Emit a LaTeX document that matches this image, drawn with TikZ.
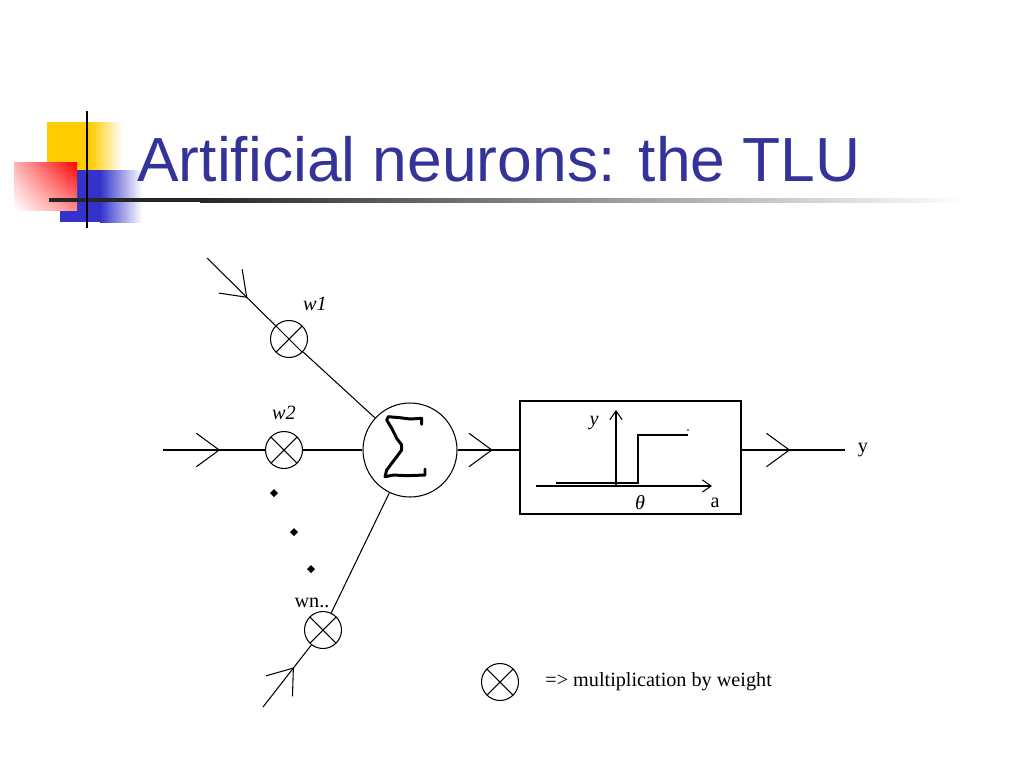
\documentclass[tikz,border=0pt]{standalone}
\usepackage{fontspec}
\setmainfont{Liberation Serif}
\newfontfamily\titlefont{Liberation Sans}
\usetikzlibrary{arrows.meta,decorations.markings,shadings}
\definecolor{titleblue}{RGB}{51,51,153}
\definecolor{logoyellow}{RGB}{255,204,0}
\definecolor{logored}{RGB}{255,0,0}
\definecolor{logoblue}{RGB}{51,51,204}

\begin{document}
\begin{tikzpicture}[x=0.02cm,y=-0.02cm,
    wire/.style={line width=0.6pt},
    weight/.style={draw,circle,minimum size=0.74cm,inner sep=0pt,line width=0.6pt,
        path picture={\draw[line width=0.6pt]
            (path picture bounding box.north west) -- (path picture bounding box.south east)
            (path picture bounding box.north east) -- (path picture bounding box.south west);}},
    barb/.style={postaction={decorate},decoration={markings,
        mark=at position #1 with {\arrow{Straight Barb[length=13pt,width=19pt,line width=0.6pt]}}}},
    lbl/.style={font=\fontsize{11.5}{12}\selectfont,inner sep=0pt},
]
    \useasboundingbox (0,0) rectangle (1024,768);
    % logo
    \fill[logoyellow] (47,122) rectangle (90,180);
    \shade[left color=logoyellow,right color=white] (90,122) rectangle (122,180);
    \fill[logoblue] (60,170) rectangle (100,222);
    \shade[left color=logoblue,right color=white] (100,170) rectangle (142,222);
    \shade[upper right=logored,upper left=logored!30,lower right=logored!45,lower left=white] (14,162) rectangle (77,210);
    \fill[black!85] (49,198) rectangle (200,202);
    \shade[left color=black!85,right color=white] (200,198) rectangle (965,202);
    \draw[line width=1.7pt] (87,111) -- (87,228);
    \node[anchor=base west,inner sep=0pt,text=titleblue,font=\titlefont\fontsize{35.5}{40}\selectfont] (title) at (137,181) {Artificial neurons: the TLU};

    % neuron
    \node[weight] (w1) at (289,339) {};
    \node[weight] (w2) at (284,450) {};
    \node[weight] (wn) at (323,630) {};
    \node[draw,circle,minimum size=1.88cm,inner sep=0pt,line width=0.6pt] (sum) at (410,450) {};
    \node[draw,minimum width=4.42cm,minimum height=2.26cm,inner sep=0pt,line width=0.8pt] (tlu) at (630.5,457.5) {};
    \coordinate (in1) at (207,258);
    \coordinate (in2) at (163,450);
    \coordinate (inn) at (263,707);
    \coordinate (out) at (845,450);

    \draw[wire,barb=0.59] (in1) -- (w1);
    \draw[wire] (w1) -- (sum);
    \draw[wire,barb=0.56] (in2) -- (w2);
    \draw[wire] (w2) -- (sum);
    \draw[wire,barb=0.64] (inn) -- (wn);
    \draw[wire] (wn) -- (sum);
    \draw[wire,barb=0.57] (sum) -- (sum -| tlu.west);
    \draw[wire,barb=0.47] (sum -| tlu.east) -- (out);

    % sigma
    \draw[line width=1.7pt,line join=round,line cap=round] (421.7,424.3) -- (421.7,418.3) -- (410,419) -- (400,417.7)
        -- (388.3,416.7) -- (386.7,420) -- (391.7,428.3) -- (396.7,438.3) -- (401.7,445) -- (401.7,450)
        -- (396.7,456.7) -- (391.7,463.3) -- (386.7,470) -- (385,476.7) -- (393.3,475) -- (406.7,475.7)
        -- (425,475) -- (425,469);

    % step function
    \draw[wire,-{Straight Barb[length=5pt,width=7pt]}] (616,486) -- (616,410);
    \draw[wire,-{Straight Barb[length=5pt,width=7pt]}] (536,486) -- (712,486);
    \draw[line width=0.8pt] (556,483) -- (638,483) -- (638,435) -- (688,435);
    \fill (688,430) circle (0.8);
    \node[lbl] (ylab) at (594,423) {\itshape y};
    \node[lbl] (theta) at (640,503) {\itshape θ};
    \node[lbl] (alab) at (715,503) {a};

    % labels
    \node[lbl] (w1lab) at (315,304) {\itshape w1};
    \node[lbl] (w2lab) at (284,413) {\itshape w2};
    \node[lbl] (wnlab) at (312,603) {wn..};
    \node[lbl] (outlab) at (863,450) {y};
    \foreach \x/\y in {274/493,294/532,311/569}
        \fill (\x,\y) +(-4,0) -- +(0,-4) -- +(4,0) -- +(0,4) -- cycle;

    % key
    \node[weight] (key) at (500,682) {};
    \node[lbl,anchor=west] (keytext) at (545,682) {=> multiplication by weight};
\end{tikzpicture}
\end{document}
